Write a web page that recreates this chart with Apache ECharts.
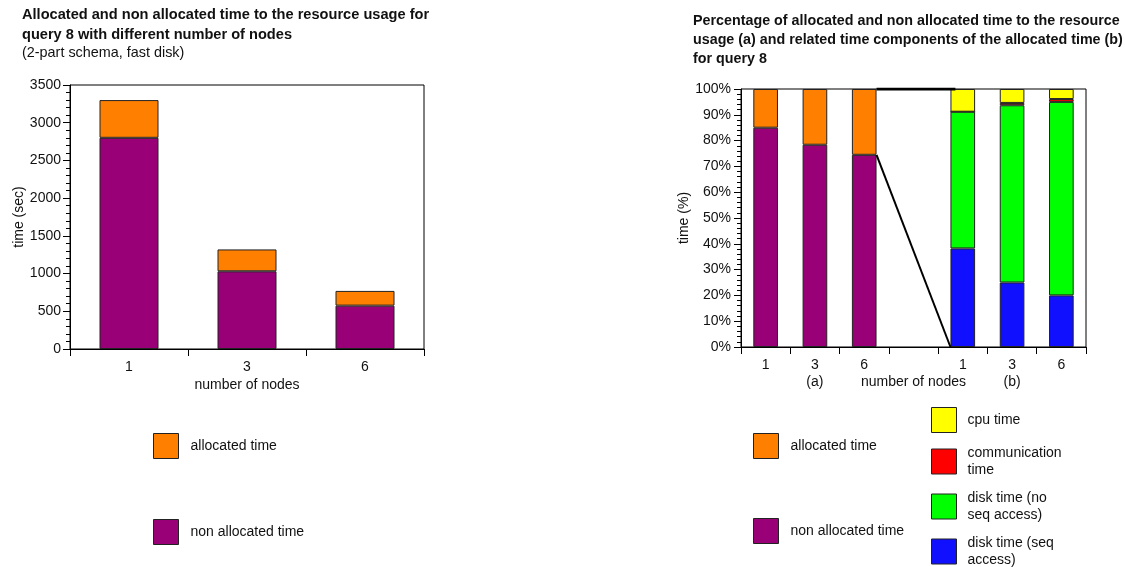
<!DOCTYPE html>
<html>
<head>
<meta charset="utf-8">
<script src="https://cdn.jsdelivr.net/npm/echarts@6/dist/echarts.min.js"></script>
<style>
  html, body { margin: 0; padding: 0; background: #fff; }
  #chart { width: 1125px; height: 567px; }
</style>
</head>
<body>
<div id="chart"></div>
<script>
// Query 8: absolute times per node count (left) and percentage split (right)
const nodes = ['1', '3', '6'];
const nonAllocSec = [2800, 1030, 575];
const allocSec = [500, 290, 195];

// Right panel: group (a) percentages, group (b) allocated-time components
const pctCategories = ['1', '3', '6', '', '1', '3', '6'];
const pctSubLabels = ['', '(a)', '', 'number of nodes', '', '(b)', ''];
const nonAllocPct = [85, 78.4, 74.5];
const allocPct = [15, 21.6, 25.5];
const diskSeqPct = [38.2, 25, 20];
const diskNoSeqPct = [53, 68.7, 75];
const commPct = [0, 0.9, 1.1];
const cpuPct = [8.8, 5.4, 3.9];

const leftTicks = { min: 0, max: 3500, interval: 500 };
const rightTicks = { min: 0, max: 100, interval: 10 };

const FONT = 'Liberation Sans, Arial, sans-serif';
const TXT = '#111';
const C = {
  nonAlloc: '#990077',
  alloc: '#ff8000',
  cpu: '#ffff00',
  comm: '#ff0000',
  noSeq: '#00ff00',
  seq: '#1010ff'
};
const barEdge = { borderColor: '#222', borderWidth: 1 };

// group (a) fills slots 0..2, group (b) fills slots 4..6
const groupA = arr => arr.concat(['-', '-', '-', '-']);
const groupB = arr => ['-', '-', '-', '-'].concat(arr);

// connector lines run from the last (a) bar to the first (b) bar,
// in slot units on a hidden value axis spanning the category slots
const barHalf = 0.25;
const lastA = 2, firstB = 4;
const aRight = lastA + 0.5 + barHalf;
const bLeft = firstB + 0.5 - barHalf;

const chart = echarts.init(document.getElementById('chart'), null, { renderer: 'canvas' });

const yAxisCommon = {
  axisLine: { show: true, lineStyle: { color: '#000', width: 1 } },
  axisTick: { show: true, length: 7, inside: false, lineStyle: { color: '#000' } },
  minorTick: { show: true, splitNumber: 5, length: 4, lineStyle: { color: '#000' } },
  splitLine: { show: false },
  axisLabel: { color: TXT, fontSize: 14, fontFamily: FONT, margin: 9, formatter: v => String(v) },
  nameLocation: 'middle',
  nameTextStyle: { color: TXT, fontSize: 14, fontFamily: FONT }
};

const xAxisCommon = {
  type: 'category',
  boundaryGap: true,
  axisLine: { show: true, lineStyle: { color: '#000', width: 1 } },
  axisTick: { show: true, length: 7, alignWithLabel: false, lineStyle: { color: '#000' } },
  axisLabel: { color: TXT, fontSize: 14, fontFamily: FONT, margin: 10, lineHeight: 17 },
  nameLocation: 'middle',
  nameTextStyle: { color: TXT, fontSize: 14, fontFamily: FONT }
};

const legendText = { color: TXT, fontSize: 14, fontFamily: FONT, lineHeight: 17, padding: [0, 0, 0, 7] };
function legendAt(names, left, top, gap, extra) {
  return {
    data: names,
    orient: 'vertical', left: left, top: top, padding: 0,
    itemWidth: 25, itemHeight: 25, itemGap: gap, icon: 'rect',
    selectedMode: false,
    itemStyle: { borderColor: '#222', borderWidth: 1 },
    textStyle: Object.assign({}, legendText, extra || {})
  };
}
const wrapText = { width: 100, overflow: 'break', padding: [0, 0, 0, 6] };

const option = {
  animation: false,
  backgroundColor: '#fff',
  textStyle: { fontFamily: FONT },
  title: [
    {
      text: 'Allocated and non allocated time to the resource usage for\nquery 8 with different number of nodes',
      subtext: '(2-part schema, fast disk)',
      left: 22, top: 5, itemGap: 0, padding: 0,
      textStyle: { fontSize: 14.6, fontWeight: 'bold', color: TXT, lineHeight: 20, fontFamily: FONT },
      subtextStyle: { fontSize: 14.4, color: TXT, lineHeight: 17, fontFamily: FONT }
    },
    {
      text: 'Percentage of allocated and non allocated time to the resource\nusage (a) and related time components of the allocated time (b)\nfor query 8',
      left: 693, top: 12, padding: 0,
      textStyle: { fontSize: 14.3, fontWeight: 'bold', color: TXT, lineHeight: 19, fontFamily: FONT }
    }
  ],
  legend: [
    legendAt(['allocated time', 'non allocated time'], 153, 433, 60),
    legendAt(['allocated time', 'non allocated time'], 753, 433, 59),
    legendAt(['cpu time'], 931, 407, 10, wrapText),
    legendAt(['communication time'], 931, 444.5, 10, wrapText),
    legendAt(['disk time (no seq access)'], 931, 489.5, 10, wrapText),
    legendAt(['disk time (seq access)'], 931, 534.5, 10, wrapText)
  ],
  grid: [
    { left: 70, top: 85, width: 354, height: 264, show: true, borderColor: '#000', borderWidth: 1, backgroundColor: 'transparent' },
    { left: 741, top: 89, width: 345, height: 258, show: true, borderColor: '#000', borderWidth: 1, backgroundColor: 'transparent' }
  ],
  xAxis: [
    Object.assign({}, xAxisCommon, {
      gridIndex: 0, data: nodes, name: 'number of nodes', nameGap: 29
    }),
    Object.assign({}, xAxisCommon, {
      gridIndex: 1, data: pctCategories,
      axisLabel: Object.assign({}, xAxisCommon.axisLabel, {
        interval: 0,
        formatter: (v, i) => pctSubLabels[i] ? v + '\n' + pctSubLabels[i] : v
      })
    }),
    { type: 'value', gridIndex: 1, min: 0, max: pctCategories.length, show: false }
  ],
  yAxis: [
    Object.assign({}, yAxisCommon, {
      type: 'value', gridIndex: 0, min: leftTicks.min, max: leftTicks.max, interval: leftTicks.interval,
      name: 'time (sec)', nameGap: 41
    }),
    Object.assign({}, yAxisCommon, {
      type: 'value', gridIndex: 1, min: rightTicks.min, max: rightTicks.max, interval: rightTicks.interval,
      name: 'time (%)', nameGap: 45,
      axisLabel: Object.assign({}, yAxisCommon.axisLabel, { margin: 10, formatter: '{value}%' })
    })
  ],
  series: [
    { name: 'non allocated time', type: 'bar', xAxisIndex: 0, yAxisIndex: 0, stack: 'L', barWidth: '50%',
      data: nonAllocSec, itemStyle: Object.assign({ color: C.nonAlloc }, barEdge) },
    { name: 'allocated time', type: 'bar', xAxisIndex: 0, yAxisIndex: 0, stack: 'L', barWidth: '50%',
      data: allocSec, itemStyle: Object.assign({ color: C.alloc }, barEdge) },

    { name: 'non allocated time', type: 'bar', xAxisIndex: 1, yAxisIndex: 1, stack: 'R', barWidth: '50%',
      data: groupA(nonAllocPct), itemStyle: Object.assign({ color: C.nonAlloc }, barEdge) },
    { name: 'allocated time', type: 'bar', xAxisIndex: 1, yAxisIndex: 1, stack: 'R', barWidth: '50%',
      data: groupA(allocPct), itemStyle: Object.assign({ color: C.alloc }, barEdge) },
    { name: 'disk time (seq access)', type: 'bar', xAxisIndex: 1, yAxisIndex: 1, stack: 'R', barWidth: '50%',
      data: groupB(diskSeqPct), itemStyle: Object.assign({ color: C.seq }, barEdge) },
    { name: 'disk time (no seq access)', type: 'bar', xAxisIndex: 1, yAxisIndex: 1, stack: 'R', barWidth: '50%',
      data: groupB(diskNoSeqPct), itemStyle: Object.assign({ color: C.noSeq }, barEdge) },
    { name: 'communication time', type: 'bar', xAxisIndex: 1, yAxisIndex: 1, stack: 'R', barWidth: '50%',
      data: groupB(commPct), itemStyle: Object.assign({ color: C.comm }, barEdge) },
    { name: 'cpu time', type: 'bar', xAxisIndex: 1, yAxisIndex: 1, stack: 'R', barWidth: '50%',
      data: groupB(cpuPct), itemStyle: Object.assign({ color: C.cpu }, barEdge) },

    // connector from the top of the (a) bar to the top of the (b) bar
    { name: 'top link', type: 'line', xAxisIndex: 2, yAxisIndex: 1, z: 5, symbol: 'none', silent: true,
      data: [[aRight, rightTicks.max], [bLeft + 0.1, rightTicks.max]],
      lineStyle: { color: '#000', width: 3 } },
    // connector from the split point of the (a) bar to the base of the (b) bar
    { name: 'split link', type: 'line', xAxisIndex: 2, yAxisIndex: 1, z: 5, symbol: 'none', silent: true,
      data: [[aRight, nonAllocPct[lastA]], [bLeft, 0]],
      lineStyle: { color: '#000', width: 2 } }
  ]
};

chart.setOption(option);
</script>
</body>
</html>
